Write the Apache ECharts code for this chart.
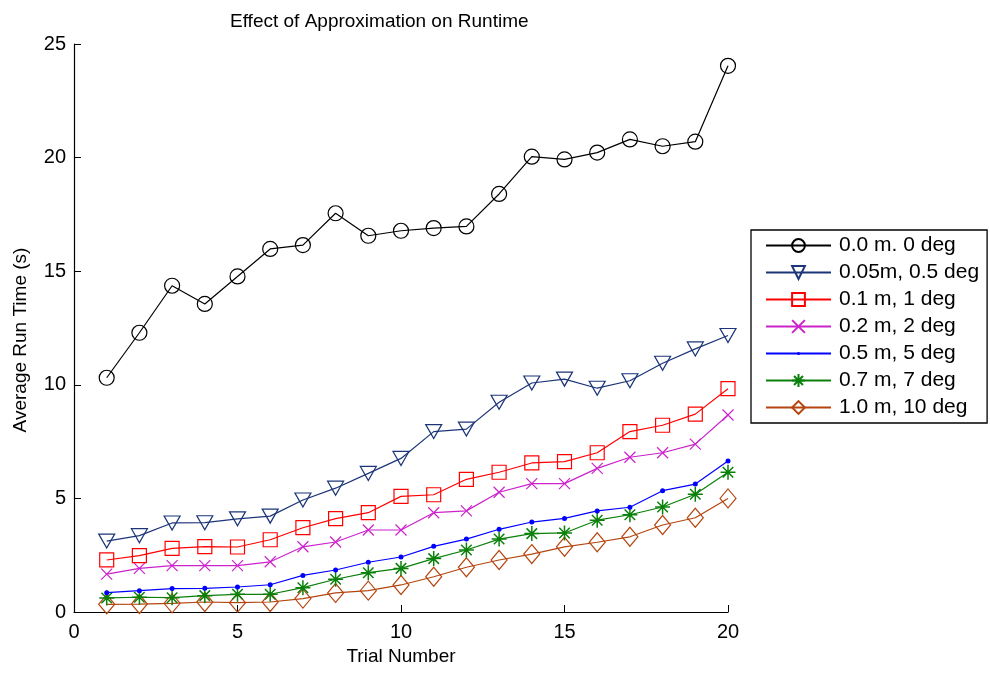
<!DOCTYPE html>
<html><head><meta charset="utf-8">
<script src="https://cdn.jsdelivr.net/npm/echarts@6/dist/echarts.min.js"></script>
<style>html,body{margin:0;padding:0;background:#fff}#c{width:990px;height:673px}</style>
</head><body><div id="c"></div>
<script>
const trials = [1,2,3,4,5,6,7,8,9,10,11,12,13,14,15,16,17,18,19,20];
const s0 = [10.31,12.29,14.36,13.56,14.77,15.98,16.15,17.55,16.56,16.78,16.9,16.97,18.4,20.04,19.92,20.22,20.8,20.5,20.7,24.04];
const s1 = [3.12,3.36,3.92,3.93,4.1,4.22,4.93,5.45,6.1,6.76,7.94,8.05,9.23,10.08,10.25,9.85,10.18,10.95,11.58,12.17];
const s2 = [2.29,2.48,2.8,2.88,2.86,3.18,3.71,4.11,4.37,5.09,5.16,5.84,6.15,6.56,6.62,7.01,7.94,8.22,8.71,9.83];
const s3 = [1.67,1.92,2.04,2.04,2.04,2.21,2.87,3.08,3.61,3.61,4.37,4.45,5.27,5.65,5.65,6.32,6.81,7.01,7.39,8.67];
const s4 = [0.85,0.94,1.03,1.04,1.1,1.2,1.61,1.85,2.19,2.42,2.89,3.21,3.64,3.96,4.12,4.45,4.61,5.34,5.63,6.65];
const s5 = [0.62,0.65,0.63,0.72,0.78,0.78,1.07,1.44,1.73,1.92,2.35,2.73,3.21,3.45,3.48,4.04,4.28,4.62,5.18,6.15];
const s6 = [0.34,0.35,0.38,0.44,0.41,0.44,0.59,0.84,0.94,1.19,1.55,1.97,2.29,2.55,2.87,3.07,3.31,3.83,4.15,5.0];
const names = ['0.0 m. 0 deg','0.05m, 0.5 deg','0.1 m, 1 deg','0.2 m, 2 deg','0.5 m, 5 deg','0.7 m, 7 deg','1.0 m, 10 deg'];
const colors = ['#000000','#1c3578','#ff0000','#cc22cc','#0000ff','#0a800a','#b5450f'];
const xTicks = [0,5,10,15,20];
const yTicks = [0,5,10,15,20,25];

const FONT = 'Liberation Sans, Arial, Helvetica, sans-serif';
const circlePath = 'path://M10,5A5,5,0,1,1,0,5A5,5,0,1,1,10,5Z';
const rectPath = 'path://M0,0L10,0L10,10L0,10Z';
const diamondPath = 'path://M5,0L10,6L5,12L0,6Z';
const crossPath = 'path://M0,0L10,10M10,0L0,10';
const starPath = 'path://M5,0L5,10M0,5L10,5M1.5,1.5L8.5,8.5M8.5,1.5L1.5,8.5';
const invTri = 'path://M0,0L10,0L5,9Z';
// small dot centred in a larger (empty) box so that legend and plot dots stay small
const dotPath = 'path://M0,0L0,0ZM16,16L16,16ZM10,8A2,2,0,1,1,6,8A2,2,0,1,1,10,8Z';

const symbols = [
  {symbol:circlePath, size:15},
  {symbol:invTri, size:[16,14]},
  {symbol:rectPath, size:14},
  {symbol:crossPath, size:11},
  {symbol:dotPath, size:20},
  {symbol:starPath, size:15},
  {symbol:diamondPath, size:[16,19]}
];
const datas = [s0,s1,s2,s3,s4,s5,s6];

const series = datas.map((d,i)=>{
  const sym = symbols[i];
  const filled = (i===4);
  return {
    name: names[i],
    type:'line',
    data: trials.map((t,k)=>[t,d[k]]),
    symbol: sym.symbol,
    symbolSize: sym.size,
    showAllSymbol: true,
    lineStyle:{color:colors[i], width:1.2},
    itemStyle: filled ? {color:colors[i], borderColor:colors[i], borderWidth:0} :
      {color:'rgba(255,255,255,0)', borderColor:colors[i], borderWidth:(i===5?1.5:1.2)},
    emphasis:{disabled:true},
    animation:false,
    z: 10-i
  };
});

const chart = echarts.init(document.getElementById('c'), null, {renderer:'canvas'});
chart.setOption({
  backgroundColor:'#fff',
  animation:false,
  title:{text:'Effect of Approximation on Runtime', left:225, top:7,
    textStyle:{fontFamily:FONT, fontSize:19, fontWeight:'normal', color:'#000'}},
  grid:{left:74, right:262, top:44, bottom:61, containLabel:false},
  legend:{
    orient:'vertical', left:751, top:230,
    backgroundColor:'#fff', borderColor:'#000', borderWidth:1.3, borderRadius:0,
    padding:[5,8,5,14], itemGap:6, itemWidth:65, itemHeight:16,
    textStyle:{fontFamily:FONT, fontSize:21, color:'#000', padding:[0,0,0,3]},
    data:names
  },
  xAxis:{
    type:'value', min:0, max:20, interval:5,
    name:'Trial Number', nameLocation:'middle', nameGap:34,
    nameTextStyle:{fontFamily:FONT, fontSize:19, color:'#000'},
    axisLine:{show:true, onZero:false, lineStyle:{color:'#000', width:1.2}},
    axisTick:{show:true, inside:true, length:7, lineStyle:{color:'#000'}},
    axisLabel:{fontFamily:FONT, fontSize:20, color:'#000', margin:10},
    splitLine:{show:false}
  },
  yAxis:{
    type:'value', min:0, max:25, interval:5,
    name:'Average Run Time (s)', nameLocation:'middle', nameGap:44, nameRotate:90,
    nameTextStyle:{fontFamily:FONT, fontSize:19, color:'#000', padding:[0,24,0,0]},
    axisLine:{show:true, onZero:false, lineStyle:{color:'#000', width:1.2}},
    axisTick:{show:true, inside:true, length:7, lineStyle:{color:'#000'}},
    axisLabel:{fontFamily:FONT, fontSize:20, color:'#000', margin:8},
    splitLine:{show:false}
  },
  series: series
});
</script></body></html>
